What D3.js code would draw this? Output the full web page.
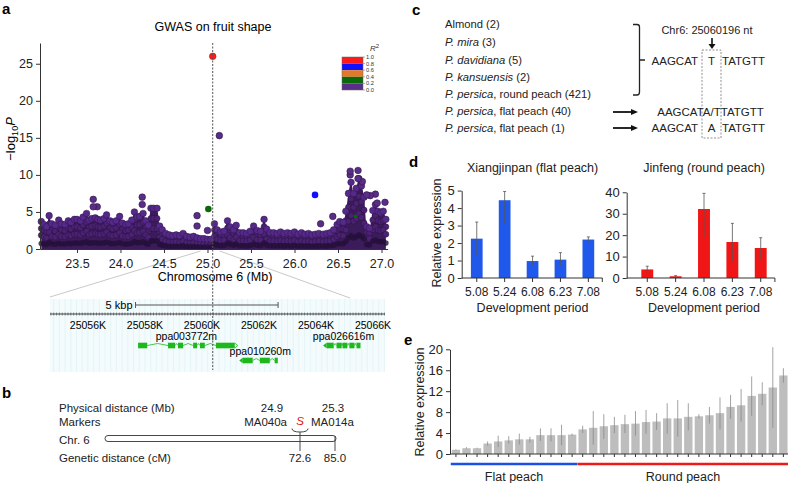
<!DOCTYPE html>
<html><head><meta charset="utf-8">
<script src="https://cdn.jsdelivr.net/npm/d3@7"></script>
<style>
body{margin:0;background:#fff;}
svg{font-family:"Liberation Sans",Arial,Helvetica,sans-serif;}
</style></head><body>
<svg id="c" width="788" height="483"></svg>
<script>
// ---------------- DATA ----------------
// Panel a: dense band of SNPs (position Mb, upper -log10P of band)
const bandPos = [23.09,23.12,23.15,23.18,23.21,23.25,23.29,23.32,23.36,23.40,23.43,23.47,23.50,23.54,23.57,23.61,23.64,23.67,23.71,23.74,23.77,23.81,23.84,23.88,23.91,23.95,23.99,24.02,24.06,24.09,24.13,24.16,24.19,24.22,24.26,24.29,24.32,24.35,24.38,24.42,24.45,24.48,24.52,24.56,24.60,24.64,24.68,24.72,24.76,24.80,24.84,24.88,24.92,24.96,25.00,25.04,25.08,25.11,25.15,25.19,25.23,25.26,25.30,25.33,25.37,25.41,25.45,25.49,25.53,25.57,25.61,25.65,25.68,25.72,25.76,25.80,25.84,25.88,25.92,25.96,26.00,26.04,26.08,26.12,26.16,26.20,26.24,26.28,26.33,26.37,26.41,26.45,26.49,26.52,26.56,26.59,26.62,26.65,26.68,26.71,26.74,26.77,26.80,26.83,26.86,26.90,26.93,26.96,26.99,27.02,27.05];
const bandTop = [3.7,3.3,3.0,4.5,3.4,3.2,3.9,3.4,3.3,3.8,3.6,4.0,4.0,3.8,4.3,4.8,3.9,4.1,4.2,4.0,3.9,4.1,4.6,3.8,3.6,3.8,4.4,3.5,3.3,3.4,3.9,5.0,4.3,4.4,4.8,3.8,3.2,5.5,5.5,5.5,3.1,2.6,2.1,1.9,1.8,1.9,1.8,2.1,1.7,1.6,1.7,1.5,1.4,1.4,1.3,1.3,3.4,2.6,2.3,2.4,3.8,3.0,2.6,3.2,2.2,2.2,2.1,2.4,3.1,2.5,2.4,4.0,2.7,2.2,2.2,2.1,2.3,2.1,2.2,2.1,2.3,2.0,2.2,2.0,2.1,1.9,2.0,2.1,2.0,2.1,2.2,2.6,3.3,3.7,3.6,5.1,7.5,9.0,7.5,8.2,9.5,8.5,7.0,3.0,2.8,5.2,6.0,5.1,4.9,5.1,4.0];
// Panel a: individual SNPs
const snpPos  = [25.06,25.136,26.236,25.01,26.70,23.687,23.687,23.733,24.25,24.25,24.88,24.88,25.0,26.30,26.44,26.64,26.64,26.73,26.73,26.78,26.83,26.87,26.93,26.95,27.04];
const snpLogP = [26.0,15.3,7.3,5.4,4.4,6.7,5.7,5.7,7.0,6.0,4.5,3.1,2.5,3.4,4.4,10.5,10.0,10.6,9.5,9.1,7.3,7.2,7.4,6.2,6.3];
const snpR2   = [1.0,0.0,0.7,0.3,0.3,0,0,0,0,0,0,0,0,0,0,0,0,0,0,0,0,0,0,0,0];
const leadSnp = 25.06;
const r2Breaks = [1.0,0.8,0.6,0.4,0.2,0.0];
const r2Colors = ["#ff1a1a","#1010ff","#e07a2a","#0a6a0a","#5a2d86"];
const xTicksA = [23.5,24.0,24.5,25.0,25.5,26.0,26.5,27.0];
const yTicksA = [0,5,10,15,20,25];
// gene track
const rulerTicks = [25056,25058,25060,25062,25064,25066];
const geneNames = ["ppa003772m","ppa010260m","ppa026616m"];
const geneStrand = [1,-1,-1];
const geneRow = [0,1,0];
const geneExons = [
  [[25057.76,25058.08],[25058.81,25059.06],[25059.16,25059.34],[25059.69,25059.83],[25059.93,25060.10],[25060.49,25061.15]],
  [[25061.43,25061.78],[25062.03,25062.38],[25062.55,25062.66]],
  [[25064.37,25064.62],[25064.72,25064.90],[25064.93,25065.10],[25065.17,25065.35],[25065.42,25065.56]]
];
// Panel b
const bRowLabels = ["Physical distance (Mb)","Markers","Chr. 6","Genetic distance (cM)"];
const markerNames = ["MA040a","MA014a"];
const markerMb = ["24.9","25.3"];
const markerCM = [72.6,85.0];
// Panel c
const cSpecies = ["Almond","P. mira","P. davidiana","P. kansuensis","P. persica","P. persica","P. persica"];
const cItalic = [false,true,true,true,true,true,true];
const cSuffix = [" (2)"," (3)"," (5)"," (2)",", round peach (421)",", flat peach (40)",", flat peach (1)"];
// Panel d
const periods = ["5.08","5.24","6.08","6.23","7.08"];
const flatExpr = [2.25,4.45,0.97,1.05,2.2];
const flatLow  = [1.25,3.1,0.75,0.7,2.05];
const flatHigh = [3.2,4.95,1.25,1.45,2.35];
const roundExpr = [4.0,0.8,32.2,16.8,14.0];
const roundLow  = [2.3,0.5,19.0,7.8,8.8];
const roundHigh = [5.5,1.1,39.5,25.5,18.8];
// Panel e
const eAccessions = d3.range(1,33).map(String);
const eGroup = ["Flat","Flat","Flat","Flat","Flat","Flat","Flat","Flat","Flat","Flat","Flat","Flat","Round","Round","Round","Round","Round","Round","Round","Round","Round","Round","Round","Round","Round","Round","Round","Round","Round","Round","Round","Round"];
const eExpr = [0.8,1.1,1.1,2.0,2.4,2.6,2.8,2.8,3.6,3.6,3.6,3.7,4.7,5.0,5.3,5.5,5.7,5.8,6.1,6.2,6.8,6.8,7.1,7.2,7.4,7.8,9.0,9.3,11.1,11.5,12.7,15.0];
const eLow  = [0.7,1.0,1.0,1.6,1.3,2.0,1.8,2.2,2.5,2.4,1.7,3.5,4.0,1.8,2.9,4.0,4.0,3.5,3.9,4.6,3.9,3.3,4.5,6.8,5.8,4.7,6.7,6.2,7.3,9.3,5.0,13.6];
const eHigh = [0.9,1.3,1.2,2.4,3.5,3.4,3.9,3.3,4.9,4.9,5.6,3.9,5.4,8.2,7.6,7.1,7.5,8.2,8.4,7.8,9.7,10.3,9.7,7.6,9.0,10.8,11.3,12.4,14.8,13.7,20.4,16.4];
const eTicks = [0,4,8,12,16,20];

// ---------------- DRAW ----------------
const svg = d3.select("#c");
function panelLabel(t,x,y){svg.append("text").attr("x",x).attr("y",y).attr("font-size",15).attr("font-weight","bold").text(t);}
function styleAxis(g,fs){g.selectAll("text").attr("font-size",fs).attr("fill","#222").attr("font-family","Liberation Sans, Arial, sans-serif");g.selectAll("line,path").attr("stroke","#333");}
const fmtInt = d3.format("d");

// ===== Panel a =====
panelLabel("a",2,14);
const xA = d3.scaleLinear().domain([23.075,27.07]).range([40,387.6]);
const yA = d3.scaleLinear().domain([0,27.8]).range([249,43]);
svg.append("text").attr("x",213).attr("y",31).attr("text-anchor","middle").attr("font-size",12.5).text("GWAS on fruit shape");

// fan lines to gene track
const fan = svg.append("g").attr("stroke","#c9c9c9").attr("stroke-width",1);
fan.append("line").attr("x1",xA(24.92)).attr("y1",251).attr("x2",50).attr("y2",297);
fan.append("line").attr("x1",xA(25.14)).attr("y1",251).attr("x2",350).attr("y2",298);

// band
const bandData = bandPos.map((p,i)=>[p,bandTop[i]]);
svg.append("path").datum(bandData)
  .attr("d",d3.area().x(d=>xA(d[0])).y0(yA(0)).y1(d=>yA(d[1])).curve(d3.curveMonotoneX))
  .attr("fill","#3c1b5a");
// inner dot layers (drawn from the band values)
[0.75,0.5].forEach(f=>{
  svg.append("g").selectAll("circle").data(bandData).join("circle")
    .attr("cx",d=>xA(d[0])).attr("cy",d=>yA(d[1]*f)).attr("r",3)
    .attr("fill","#4a2272").attr("stroke","#2a1040").attr("stroke-width",0.5);
});
svg.append("g").selectAll("circle").data(bandData).join("circle")
  .attr("cx",d=>xA(d[0])).attr("cy",d=>yA(d[1]*0.2)).attr("r",2.8)
  .attr("fill","#24103a").attr("opacity",0.8);
svg.append("g").selectAll("circle").data(bandData).join("circle")
  .attr("cx",d=>xA(d[0])).attr("cy",d=>yA(d[1])).attr("r",3.3)
  .attr("fill","#55298a").attr("stroke","#2e1548").attr("stroke-width",0.5);

function r2Color(r){ for(let i=0;i<5;i++){ if(r>r2Breaks[i+1]) return r2Colors[i]; } return r2Colors[4]; }
const snps = snpPos.map((p,i)=>({p,v:snpLogP[i],r:snpR2[i]}));
svg.append("g").selectAll("circle").data(snps.slice().reverse()).join("circle")
  .attr("cx",d=>xA(d.p)).attr("cy",d=>yA(d.v)).attr("r",d=>d.r===0.3&&d.v<5?1.8:3.3)
  .attr("fill",d=>r2Color(d.r)).attr("stroke",d=>d.r>=0.99?"#a02020":(d.r===0?"#2e1548":"none")).attr("stroke-width",0.6);

// axes
const gyA = svg.append("g").attr("transform","translate(40,0)")
  .call(d3.axisLeft(yA).tickValues(yTicksA).tickFormat(fmtInt).tickSize(4).tickSizeOuter(0));
styleAxis(gyA,12.5);
const gxA = svg.append("g").attr("transform","translate(0,249)")
  .call(d3.axisBottom(xA).tickValues(xTicksA).tickFormat(d3.format(".1f")).tickSize(4).tickSizeOuter(0));
styleAxis(gxA,12.5);
gxA.selectAll("text").attr("dy","0.95em");
svg.append("text").attr("x",215).attr("y",281).attr("text-anchor","middle").attr("font-size",12.5).text("Chromosome 6 (Mb)");
const yl = svg.append("text").attr("transform","translate(15,139) rotate(-90)").attr("text-anchor","middle").attr("font-size",13);
yl.append("tspan").text("\u2212log");
yl.append("tspan").attr("font-size",9).attr("dy",3).text("10");
yl.append("tspan").attr("dy",-3).attr("font-style","italic").text("P");

// legend
const lg = svg.append("g");
const ly = d3.scaleLinear().domain([1,0]).range([57,90]);
r2Colors.forEach((c,i)=>{
  lg.append("rect").attr("x",342).attr("y",ly(r2Breaks[i])).attr("width",21).attr("height",ly(r2Breaks[i+1])-ly(r2Breaks[i])).attr("fill",c);
});
lg.append("rect").attr("x",342).attr("y",57).attr("width",21).attr("height",33).attr("fill","none").attr("stroke","#666").attr("stroke-width",0.5);
r2Breaks.forEach(b=>{
  lg.append("line").attr("x1",363).attr("x2",365).attr("y1",ly(b)).attr("y2",ly(b)).attr("stroke","#666").attr("stroke-width",0.5);
  lg.append("text").attr("x",366).attr("y",ly(b)+2).attr("font-size",5.7).attr("fill","#333").text(b.toFixed(1));
});
const rt = lg.append("text").attr("x",370).attr("y",51).attr("font-size",8).attr("font-style","italic").attr("fill","#333").text("R");
rt.append("tspan").attr("dy",-3).attr("font-size",6).attr("font-style","normal").text("2");

// gene track
const xG = d3.scaleLinear().domain([25054.67,25066.42]).range([50,385]);
const gt = svg.append("g");
gt.append("rect").attr("x",50).attr("y",299).attr("width",335).attr("height",73).attr("fill","#f3fbfc");
gt.selectAll("line.grid").data(d3.range(25054.8,25066.42,0.2)).join("line").attr("class","grid")
  .attr("x1",d=>xG(d)).attr("x2",d=>xG(d)).attr("y1",299).attr("y2",372).attr("stroke","#dcf0f3").attr("stroke-width",0.6);
// scale bar 5 kbp
gt.append("text").attr("x",xG(25057.67)-3).attr("y",309).attr("text-anchor","end").attr("font-size",11).text("5 kbp");
gt.append("line").attr("x1",xG(25057.67)).attr("x2",xG(25062.67)).attr("y1",305).attr("y2",305).attr("stroke","#555");
[25057.67,25062.67].forEach(k=>gt.append("line").attr("x1",xG(k)).attr("x2",xG(k)).attr("y1",302).attr("y2",308).attr("stroke","#555"));
// ruler
gt.append("line").attr("x1",50).attr("x2",385).attr("y1",314).attr("y2",314).attr("stroke","#444");
gt.selectAll("line.mt").data(d3.range(25054.7,25066.42,0.1)).join("line").attr("class","mt")
  .attr("x1",d=>xG(d)).attr("x2",d=>xG(d)).attr("y1",312.5).attr("y2",315.5).attr("stroke","#444").attr("stroke-width",0.6);
gt.selectAll("text.rl").data(rulerTicks).join("text").attr("class","rl")
  .attr("x",d=>xG(d)).attr("y",329).attr("text-anchor","middle").attr("font-size",10.5).text(d=>d+"K");
// genes
const gcol = "#1cb81c";
geneExons.forEach((ex,gi)=>{
  const yc = geneRow[gi]===0?345.5:360.5;
  const g = gt.append("g");
  const s = xG(ex[0][0]), e = xG(ex[ex.length-1][1]);
  g.append("text").attr("x",(s+e)/2).attr("y",yc-6).attr("text-anchor","middle").attr("font-size",10.5).text(geneNames[gi]);
  for(let i=0;i<ex.length-1;i++){
    const a=xG(ex[i][1]), b=xG(ex[i+1][0]);
    g.append("polyline").attr("points",`${a},${yc} ${(a+b)/2},${yc-2} ${b},${yc}`).attr("fill","none").attr("stroke",gcol).attr("stroke-width",0.8);
  }
  ex.forEach(x=>g.append("rect").attr("x",xG(x[0])).attr("y",yc-2.8).attr("width",xG(x[1])-xG(x[0])).attr("height",5.6).attr("fill",gcol));
  if(geneStrand[gi]===1){
    g.append("path").attr("d",`M${e},${yc-2.5} L${e+3},${yc} L${e},${yc+2.5}`).attr("fill","none").attr("stroke",gcol).attr("stroke-width",0.8);
  } else {
    g.append("path").attr("d",`M${s},${yc-2.8} L${s-3.5},${yc} L${s},${yc+2.8}Z`).attr("fill",gcol);
  }
});
// dashed lead SNP line
svg.append("line").attr("x1",xA(leadSnp)).attr("x2",xA(leadSnp)).attr("y1",43).attr("y2",370)
  .attr("stroke","#555").attr("stroke-width",1).attr("stroke-dasharray","2,1.5");

// ===== Panel b =====
panelLabel("b",2,398);
const bRowY = [412,426,444,462];
bRowLabels.forEach((t,i)=>svg.append("text").attr("x",59).attr("y",bRowY[i]).attr("font-size",11.5).attr("fill","#222").text(t));
const xB = d3.scaleLinear().domain([72.6,85.0]).range([300,335]);
svg.append("rect").attr("x",105).attr("y",435.5).attr("width",xB(85)-105+1).attr("height",6).attr("rx",3)
  .attr("fill","#fff").attr("stroke","#333").attr("stroke-width",0.9);
markerCM.forEach((c,i)=>{
  svg.append("line").attr("x1",xB(c)).attr("x2",xB(c)).attr("y1",i===0?432:436).attr("y2",451).attr("stroke","#333").attr("stroke-width",0.9);
  svg.append("text").attr("x",xB(c)).attr("y",bRowY[3]).attr("text-anchor","middle").attr("font-size",11.5).attr("fill","#222").text(c.toFixed(1));
});
svg.append("text").attr("x",272).attr("y",bRowY[0]).attr("text-anchor","middle").attr("font-size",11.5).attr("fill","#222").text(markerMb[0]);
svg.append("text").attr("x",333).attr("y",bRowY[0]).attr("text-anchor","middle").attr("font-size",11.5).attr("fill","#222").text(markerMb[1]);
svg.append("text").attr("x",287).attr("y",bRowY[1]).attr("text-anchor","end").attr("font-size",11.5).attr("fill","#222").text(markerNames[0]);
svg.append("text").attr("x",311).attr("y",bRowY[1]).attr("text-anchor","start").attr("font-size",11.5).attr("fill","#222").text(markerNames[1]);
svg.append("text").attr("x",300).attr("y",bRowY[1]-1).attr("text-anchor","middle").attr("font-size",11.5).attr("font-style","italic").attr("fill","#e01010").text("S");
svg.append("path").attr("d","M292,428.5 Q292,432 300,432 Q308,432 308,428.5").attr("fill","none").attr("stroke","#333").attr("stroke-width",0.9);

// ===== Panel c =====
panelLabel("c",412,15);
const cRowY = [28,46,64,81,98,115,132];
cSpecies.forEach((s,i)=>{
  const t = svg.append("text").attr("x",445).attr("y",cRowY[i]).attr("font-size",11.2).attr("fill","#222");
  t.append("tspan").attr("font-style",cItalic[i]?"italic":"normal").text(s);
  t.append("tspan").text(cSuffix[i]);
});
svg.append("path").attr("d","M633,24.5 L637,24.5 Q639.5,24.5 639.5,27 L639.5,92 Q639.5,95 637,95 L633,95 M639.5,60 L645,60")
  .attr("fill","none").attr("stroke","#222").attr("stroke-width",1.3);
svg.append("text").attr("x",707).attr("y",34).attr("text-anchor","middle").attr("font-size",11).attr("fill","#222").text("Chr6: 25060196 nt");
svg.append("path").attr("d","M712,38 L712,45").attr("stroke","#111").attr("stroke-width",1.6);
svg.append("path").attr("d","M708.5,44 L715.5,44 L712,49Z").attr("fill","#111");
svg.append("rect").attr("x",702).attr("y",50).attr("width",19).attr("height",88).attr("fill","none").attr("stroke","#777").attr("stroke-width",0.8).attr("stroke-dasharray","2,1.5");
function seq3(y,mid){
  svg.append("text").attr("x",698).attr("y",y).attr("text-anchor","end").attr("font-size",11.5).attr("fill","#222").text("AAGCAT");
  svg.append("text").attr("x",711.5).attr("y",y).attr("text-anchor","middle").attr("font-size",11.5).attr("fill","#222").text(mid);
  svg.append("text").attr("x",722).attr("y",y).attr("font-size",11.5).attr("fill","#222").text("TATGTT");
}
seq3(65,"T");
svg.append("text").attr("x",710.5).attr("y",116).attr("text-anchor","middle").attr("font-size",11.5).attr("fill","#222").text("AAGCATA/TTATGTT");
seq3(132,"A");
[112,128].forEach(y=>{
  svg.append("line").attr("x1",613).attr("x2",633).attr("y1",y).attr("y2",y).attr("stroke","#111").attr("stroke-width",1.8);
  svg.append("path").attr("d",`M631,${y-3} L638,${y} L631,${y+3}Z`).attr("fill","#111");
});

// ===== Panel d =====
panelLabel("d",409,167);
function barPanel(x0,x1,ax,yTop,dom,ticks,vals,lo,hi,col,title){
  const x = d3.scaleBand().domain(periods).range([x0,x1]).paddingInner(0.58).paddingOuter(0.29);
  const y = d3.scaleLinear().domain(dom).range([278,yTop]);
  const g = svg.append("g");
  g.selectAll("rect").data(periods).join("rect").attr("x",d=>x(d)).attr("width",x.bandwidth())
    .attr("y",(d,i)=>y(vals[i])).attr("height",(d,i)=>y(0)-y(vals[i])).attr("fill",col);
  g.selectAll("line.err").data(periods).join("line").attr("class","err")
    .attr("x1",d=>x(d)+x.bandwidth()/2).attr("x2",d=>x(d)+x.bandwidth()/2)
    .attr("y1",(d,i)=>y(lo[i])).attr("y2",(d,i)=>y(hi[i])).attr("stroke","#555").attr("stroke-width",0.8);
  g.selectAll("line.cap").data(periods).join("line").attr("class","cap")
    .attr("x1",d=>x(d)+x.bandwidth()/2-1.5).attr("x2",d=>x(d)+x.bandwidth()/2+1.5)
    .attr("y1",(d,i)=>y(hi[i])).attr("y2",(d,i)=>y(hi[i])).attr("stroke","#555").attr("stroke-width",0.8);
  const gy = svg.append("g").attr("transform",`translate(${ax},0)`).call(d3.axisLeft(y).tickValues(ticks).tickFormat(fmtInt).tickSize(4).tickSizeOuter(0));
  styleAxis(gy,13);
  const gx = svg.append("g").attr("transform","translate(0,278)").call(d3.axisBottom(x).tickSize(4).tickSizeOuter(0));
  gx.select(".domain").attr("d",`M${ax},0H${x1}V4`);
  styleAxis(gx,12);
  gx.selectAll("text").attr("dy","0.9em");
  svg.append("text").attr("x",(x0+x1)/2).attr("y",172).attr("text-anchor","middle").attr("font-size",12.5).attr("fill","#222").text(title);
  svg.append("text").attr("x",(x0+x1)/2).attr("y",312).attr("text-anchor","middle").attr("font-size",12.5).attr("fill","#222").text("Development period");
}
barPanel(462.8,602.3,461.7,190.6,[0,5],[0,1,2,3,4,5],flatExpr,flatLow,flatHigh,"#1f58ea","Xiangjinpan (flat peach)");
barPanel(633.1,774.9,626.7,192.3,[0,40],[0,10,20,30,40],roundExpr,roundLow,roundHigh,"#f01616","Jinfeng (round peach)");
svg.append("text").attr("transform","translate(441,233) rotate(-90)").attr("text-anchor","middle").attr("font-size",12.5).attr("fill","#222").text("Relative expression");

// ===== Panel e =====
panelLabel("e",404,345);
const xE = d3.scaleBand().domain(eAccessions).range([450.7,788.6]).paddingInner(0.21).paddingOuter(0.1);
const yE = d3.scaleLinear().domain([0,20]).range([454,349.3]);
const ge = svg.append("g");
ge.selectAll("rect").data(eAccessions).join("rect").attr("x",d=>xE(d)).attr("width",xE.bandwidth())
  .attr("y",(d,i)=>yE(eExpr[i])).attr("height",(d,i)=>yE(0)-yE(eExpr[i])).attr("fill","#bdbdbd");
ge.selectAll("line.err").data(eAccessions).join("line").attr("class","err")
  .attr("x1",d=>xE(d)+xE.bandwidth()/2).attr("x2",d=>xE(d)+xE.bandwidth()/2)
  .attr("y1",(d,i)=>yE(eLow[i])).attr("y2",(d,i)=>yE(eHigh[i])).attr("stroke","#8a8a8a").attr("stroke-width",0.8);
const gyE = svg.append("g").attr("transform","translate(450,0)").call(d3.axisLeft(yE).tickValues(eTicks).tickFormat(fmtInt).tickSize(4).tickSizeOuter(0));
styleAxis(gyE,13);
const gxE = svg.append("g").attr("transform","translate(0,454)").call(d3.axisBottom(xE).tickSize(3).tickSizeOuter(0).tickFormat(""));
gxE.select(".domain").attr("d","M450,0H788");
styleAxis(gxE,12);
svg.append("text").attr("transform","translate(424,402) rotate(-90)").attr("text-anchor","middle").attr("font-size",12.5).attr("fill","#222").text("Relative expression");
const flatIdx = eGroup.map((g,i)=>g==="Flat"?i:-1).filter(i=>i>=0);
const roundIdx = eGroup.map((g,i)=>g==="Round"?i:-1).filter(i=>i>=0);
[[flatIdx,"#1a50e6","Flat peach"],[roundIdx,"#ee1a1a","Round peach"]].forEach(([idx,c,lab])=>{
  const a = xE(eAccessions[idx[0]])-1, b = xE(eAccessions[idx[idx.length-1]])+xE.bandwidth()+1;
  svg.append("line").attr("x1",a).attr("x2",b).attr("y1",464).attr("y2",464).attr("stroke",c).attr("stroke-width",2.6);
  svg.append("text").attr("x",(a+b)/2).attr("y",481).attr("text-anchor","middle").attr("font-size",12.5).attr("fill","#222").text(lab);
});
</script>
</body></html>
